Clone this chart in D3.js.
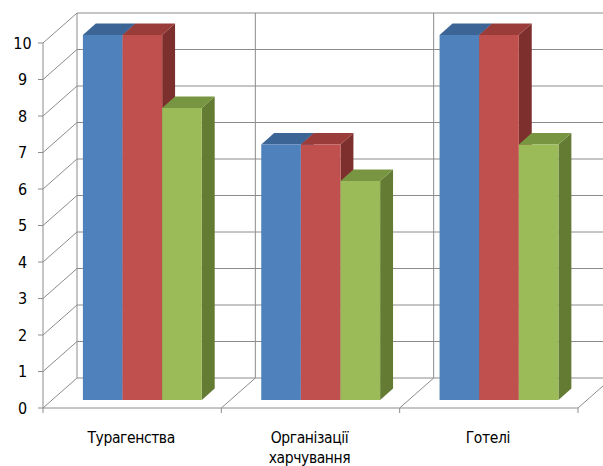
<!DOCTYPE html>
<html>
<head>
<meta charset="utf-8">
<script src="https://cdn.jsdelivr.net/npm/d3@7"></script>
<style>
  html, body { margin: 0; padding: 0; background: #fff; }
  svg { display: block; }
  text { font-family: "DejaVu Sans Condensed", "Liberation Sans", sans-serif; fill: #000; }
</style>
</head>
<body>
<svg id="chart" width="603" height="466"></svg>
<script>
const categories = ["Турагенства", "Організації харчування", "Готелі"];
const categoryLines = [["Турагенства"], ["Організації", "харчування"], ["Готелі"]];
const seriesNames = ["Ряд 1", "Ряд 2", "Ряд 3"];
const series1 = [10, 7, 10];
const series2 = [10, 7, 10];
const series3 = [8, 6, 7];
const tickValues = [0, 1, 2, 3, 4, 5, 6, 7, 8, 9, 10];

const seriesValues = [series1, series2, series3];
const colors = [
  { front: "#4F81BD", top: "#3C6596", side: "#2F5280" },
  { front: "#C0504D", top: "#9A3C3A", side: "#7D2F2E" },
  { front: "#9BBB59", top: "#789641", side: "#637B33" }
];

const svg = d3.select("#chart");

// Oblique projection: depth d in [0,1] shifts by (DX*d, -DY*d)
const DX = 34, DY = 30;
const y = d3.scaleLinear().domain([0, 10]).range([408, 43]);
const x = d3.scaleBand().domain(categories).range([43, 578]).paddingInner(0).paddingOuter(0);
const xs = d3.scaleBand().domain(seriesNames).range([0, x.bandwidth()]).paddingInner(0).paddingOuter(0.75);
const P = (px, v, d) => [px + DX * d, y(v) - DY * d];
const BAR_D0 = 0.27, BAR_D1 = 0.65;

const grid = svg.append("g").attr("stroke", "#8c8c8c").attr("stroke-width", 1).attr("fill", "none");
const xLeft = x.range()[0], xRight = x.range()[1];
const line = d3.line();

// back wall gridlines + left wall diagonals
tickValues.forEach(v => {
  grid.append("path").attr("d", line([P(xLeft, v, 1), P(xRight + 40, v, 1)]));
  grid.append("path").attr("d", line([P(xLeft, v, 0), P(xLeft, v, 1)]));
});
// back wall left edge
grid.append("path").attr("d", line([P(xLeft, 0, 1), P(xLeft, 10, 1)]));
// back wall category verticals
categories.forEach((c, i) => {
  if (i > 0) grid.append("path").attr("d", line([P(x(c), 0, 1), P(x(c), 10, 1)]));
});
// floor
grid.append("path").attr("d", line([P(xLeft, 0, 0), P(xRight, 0, 0)]));
categories.forEach((c, i) => {
  const bx = x(c) + x.bandwidth();
  grid.append("path").attr("d", line([P(bx, 0, 0), P(bx, 0, 1)]));
  grid.append("path").attr("d", line([P(bx, 0, 0), [bx, y(0) + 5]]));
});
grid.append("path").attr("d", line([P(xLeft, 0, 0), [xLeft, y(0) + 5]]));
// front vertical axis
grid.append("path").attr("d", line([P(xLeft, 0, 0), P(xLeft, 10, 0)]));
tickValues.forEach(v => {
  grid.append("path").attr("d", line([[xLeft - 5, y(v)], [xLeft, y(v)]]));
});

// tick labels
svg.append("g").selectAll("text").data(tickValues).join("text")
  .attr("x", 22.5).attr("y", d => y(d) + 5.5)
  .attr("text-anchor", "middle").attr("font-size", 16)
  .text(d => d);

// bars
const bars = svg.append("g");
categories.forEach((c, ci) => {
  seriesNames.forEach((s, si) => {
    const v = seriesValues[si][ci];
    const x0 = x(c) + xs(s) + 1, x1 = x0 + xs.bandwidth();
    const col = colors[si];
    const poly = pts => bars.append("polygon").attr("points", pts.map(p => p.join(",")).join(" "));
    // side
    poly([P(x1, 0, BAR_D0), P(x1, 0, BAR_D1), P(x1, v, BAR_D1), P(x1, v, BAR_D0)]).attr("fill", col.side);
    // top
    poly([P(x0, v, BAR_D0), P(x1, v, BAR_D0), P(x1, v, BAR_D1), P(x0, v, BAR_D1)]).attr("fill", col.top);
    // front
    poly([P(x0, 0, BAR_D0), P(x1, 0, BAR_D0), P(x1, v, BAR_D0), P(x0, v, BAR_D0)]).attr("fill", col.front);
  });
});

// category labels
const lab = svg.append("g");
categories.forEach((c, i) => {
  const cx = x(c) + x.bandwidth() / 2 - 1;
  const t = lab.append("text").attr("x", cx).attr("y", 443).attr("text-anchor", "middle")
    .attr("font-size", 15.5).attr("letter-spacing", "-0.4");
  categoryLines[i].forEach((ln, li) => {
    t.append("tspan").attr("x", cx).attr("dy", li === 0 ? 0 : 19.5).text(ln);
  });
});
</script>
</body>
</html>
